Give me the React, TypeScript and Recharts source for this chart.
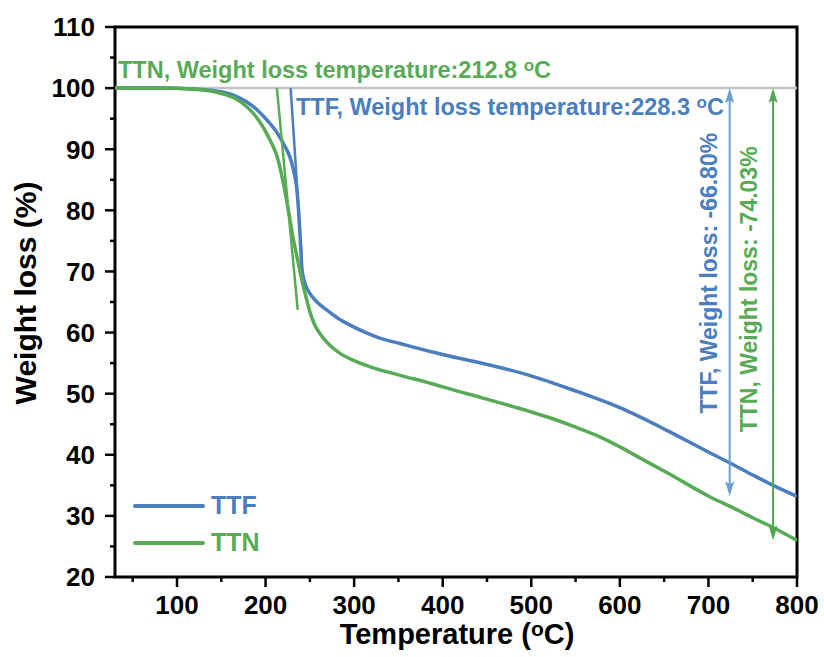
import { LineChart, Line, XAxis, YAxis, ReferenceLine, ReferenceArea, Legend } from 'recharts';

const FONT = '"Liberation Sans", Arial, sans-serif';
const BLUE = '#4a7ebf';
const GREEN = '#58ab55';
const BLUE_ARROW = '#6c9dd3';
const GREEN_ARROW = '#4fa84f';
const GRID_GREY = '#c4c4c4';

// TGA curves: temperature (°C) and remaining weight (%)
const ttfTemp = [30, 80, 120, 145, 163, 178, 190, 202, 213, 221, 227.5, 232, 235, 237, 238.5, 240, 241, 244, 250, 258, 269, 280, 291.6, 310, 329, 352, 386, 400, 450, 498, 547, 600, 653, 702, 724, 750, 773, 800];
const ttfWeight = [100, 100, 99.85, 99.5, 98.9, 97.8, 96.5, 94.7, 92.7, 90.7, 88.7, 86.3, 83.8, 80.5, 77, 73, 70.5, 68.3, 66.4, 65, 63.7, 62.5, 61.5, 60.2, 59.1, 58.2, 56.9, 56.4, 54.8, 53, 50.6, 47.7, 44, 40.3, 38.7, 36.7, 35, 33.2];

const ttnTemp = [30, 80, 120, 145, 163, 175, 186, 196, 205, 213, 220, 226, 231, 236, 241, 246, 250, 255, 261.5, 272, 284, 300, 318, 352, 386, 400, 450, 498, 520, 547, 575, 600, 625, 653, 702, 728, 750, 773, 800];
const ttnWeight = [100, 100, 99.8, 99.3, 98.5, 97.4, 95.9, 93.9, 91.5, 88.8, 84.5, 79.8, 75.6, 72, 68.6, 65.6, 63.4, 61.4, 59.8, 58, 56.6, 55.4, 54.4, 53, 51.7, 51.1, 49.1, 47.1, 46.1, 44.7, 43.1, 41.3, 39.3, 37.1, 33.1, 31.3, 29.7, 28.1, 25.97];

// onset temperatures and total weight losses
const onsetTTF = 228.3;
const onsetTTN = 212.8;
const lossTTF = 66.8;
const lossTTN = 74.03;

// tangent end points (temperature, weight)
const tangentTTF = [[onsetTTF, 100], [241, 72]];
const tangentTTN = [[onsetTTN, 100], [236.3, 63.7]];

// x positions of the weight-loss arrows
const arrowTTF = 724;
const arrowTTN = 773;

const xTicks = [50, 100, 150, 200, 250, 300, 350, 400, 450, 500, 550, 600, 650, 700, 750, 800];
const yTicks = [20, 25, 30, 35, 40, 45, 50, 55, 60, 65, 70, 75, 80, 85, 90, 95, 100, 105, 110];

const ttfData = ttfTemp.map((t, i) => ({ t, w: ttfWeight[i] }));
const ttnData = ttnTemp.map((t, i) => ({ t, w: ttnWeight[i] }));

function XTick({ x, y, payload }: any) {
  const major = payload.value % 100 === 0;
  return (
    <g>
      <line x1={x} x2={x} y1={y} y2={y + (major ? 10 : 5)} stroke="#000" strokeWidth={2.5} />
      {major && (
        <text x={x} y={y + 37} textAnchor="middle" fontFamily={FONT} fontWeight="bold" fontSize={26} fill="#000">
          {payload.value}
        </text>
      )}
    </g>
  );
}

function YTick({ x, y, payload }: any) {
  const major = payload.value % 10 === 0;
  return (
    <g>
      <line x1={x} x2={x - (major ? 10 : 5)} y1={y} y2={y} stroke="#000" strokeWidth={2.5} />
      {major && (
        <text x={x - 20} y={y + 9.3} textAnchor="end" fontFamily={FONT} fontWeight="bold" fontSize={26} fill="#000">
          {payload.value}
        </text>
      )}
    </g>
  );
}

// double-headed vertical arrow with a rotated caption on its left
const arrowShape = (color: string, textColor: string, label: string, dx: number, dy: number) => (p: any) => {
  const { x1, y1, y2 } = p;
  const top = Math.min(y1, y2);
  const bot = Math.max(y1, y2);
  const h = 15;
  const w = 4.5;
  return (
    <g>
      <line x1={x1} x2={x1} y1={top + h - 3} y2={bot - h + 3} stroke={color} strokeWidth={2} />
      <polygon points={`${x1},${top} ${x1 - w},${top + h} ${x1},${top + h - 3} ${x1 + w},${top + h}`} fill={color} />
      <polygon points={`${x1},${bot} ${x1 - w},${bot - h} ${x1},${bot - h + 3} ${x1 + w},${bot - h}`} fill={color} />
      <text
        transform={`translate(${x1 + dx},${(top + bot) / 2 + dy}) rotate(-90)`}
        textAnchor="middle"
        fontFamily={FONT}
        fontWeight="bold"
        fontSize={23}
        fill={textColor}
      >
        {label}
      </text>
    </g>
  );
};

function LegendBox({ payload }: any) {
  const items = (payload || []).filter((e: any) => e.value === 'TTF' || e.value === 'TTN');
  return (
    <div>
      {items.map((e: any) => (
        <div key={e.value} style={{ display: 'flex', alignItems: 'center', height: 37 }}>
          <svg width={72} height={8}>
            <line x1={2} x2={70} y1={4} y2={4} stroke={e.color} strokeWidth={4} strokeLinecap="round" />
          </svg>
          <span style={{ color: e.color, fontFamily: FONT, fontWeight: 'bold', fontSize: 25, marginLeft: 6, lineHeight: '37px' }}>
            {e.value}
          </span>
        </div>
      ))}
    </div>
  );
}

export default function App() {
  return (
    <div style={{ position: 'absolute', left: 0, top: 0, background: '#fff' }}>
      <LineChart width={824} height={657} margin={{ top: 27, right: 27, bottom: 0, left: 0 }}>
        <XAxis
          dataKey="t"
          type="number"
          domain={[30, 800]}
          ticks={xTicks}
          interval={0}
          allowDataOverflow
          axisLine={false}
          tickLine={false}
          tickSize={0}
          tickMargin={0}
          height={80}
          tick={<XTick />}
        />
        <YAxis
          type="number"
          domain={[20, 110]}
          ticks={yTicks}
          interval={0}
          allowDataOverflow
          axisLine={false}
          tickLine={false}
          tickSize={0}
          tickMargin={0}
          width={115}
          tick={<YTick />}
        />
        <ReferenceLine y={100} stroke={GRID_GREY} strokeWidth={2.5} />
        <Line data={ttfData} dataKey="w" name="TTF" type="monotone" stroke={BLUE} strokeWidth={3.5} dot={false} isAnimationActive={false} />
        <Line data={ttnData} dataKey="w" name="TTN" type="monotone" stroke={GREEN} strokeWidth={3.5} dot={false} isAnimationActive={false} />
        <ReferenceLine
          segment={tangentTTF.map(([x, y]) => ({ x, y }))}
          stroke={BLUE}
          strokeWidth={2.5}
          ifOverflow="visible"
        />
        <ReferenceLine
          segment={tangentTTN.map(([x, y]) => ({ x, y }))}
          stroke={GREEN}
          strokeWidth={2.5}
          ifOverflow="visible"
        />
        <ReferenceLine
          segment={[{ x: arrowTTF, y: 100 }, { x: arrowTTF, y: 100 - lossTTF }]}
          ifOverflow="visible"
          shape={arrowShape(BLUE_ARROW, BLUE, `TTF, Weight loss: -${lossTTF.toFixed(2)}%`, -13, -19)}
        />
        <ReferenceLine
          segment={[{ x: arrowTTN, y: 100 }, { x: arrowTTN, y: 100 - lossTTN }]}
          ifOverflow="visible"
          shape={arrowShape(GREEN_ARROW, GREEN, `TTN, Weight loss: -${lossTTN.toFixed(2)}%`, -16, -25)}
        />
        <ReferenceArea x1={30} x2={800} y1={20} y2={110} fill="none" stroke="#000" strokeWidth={3} ifOverflow="visible" />
        <Legend
          layout="vertical"
          align="center"
          verticalAlign="middle"
          wrapperStyle={{ left: 133, top: 487, width: 'auto' }}
          content={<LegendBox />}
        />
        <text x={118} y={78} fontFamily={FONT} fontWeight="bold" fontSize={23.5} fill={GREEN}>
          {`TTN, Weight loss temperature:${onsetTTN.toFixed(1)} `}
          <tspan fontSize={17} dy={-7}>o</tspan>
          <tspan dy={7}>C</tspan>
        </text>
        <text x={296} y={115} fontFamily={FONT} fontWeight="bold" fontSize={23.5} fill={BLUE}>
          {`TTF, Weight loss temperature:${onsetTTF.toFixed(1)} `}
          <tspan fontSize={17} dy={-7}>o</tspan>
          <tspan dy={7}>C</tspan>
        </text>
        <text x={457} y={644} textAnchor="middle" fontFamily={FONT} fontWeight="bold" fontSize={29} fill="#000">
          {'Temperature ('}
          <tspan fontSize={21} dy={-8}>o</tspan>
          <tspan dy={8}>C)</tspan>
        </text>
        <text transform="translate(36,293) rotate(-90)" textAnchor="middle" fontFamily={FONT} fontWeight="bold" fontSize={30} fill="#000">
          Weight loss (%)
        </text>
      </LineChart>
    </div>
  );
}
